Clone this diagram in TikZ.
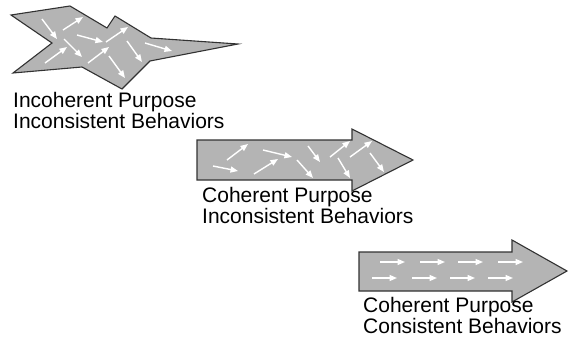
\documentclass[tikz,border=0pt]{standalone}
\usepackage{fontspec}
\setmainfont{Liberation Sans}
\usetikzlibrary{arrows.meta}
\definecolor{shapegray}{RGB}{180,180,180}
\definecolor{edgegray}{RGB}{50,50,50}
\tikzset{
  shapebox/.style={fill=shapegray, draw=edgegray, line width=1.1pt, line join=miter},
  tinyarrow/.style={draw=white, line width=1.4pt, -{Triangle[length=7.5pt,width=6pt]}},
  caption/.style={anchor=base west, inner sep=0pt, align=left,
    font=\fontsize{21pt}{21pt}\selectfont, text=black}
}
\begin{document}
\begin{tikzpicture}[x=1pt,y=-1pt]
\useasboundingbox (0,0) rectangle (568,343);
% Incoherent shape
\draw[shapebox] (11,15) -- (70,6) -- (107,28) -- (115,16) -- (151,38) -- (238,44)
  -- (150,61) -- (122,89) -- (82,67) -- (13,73) -- (52,43) -- cycle;
\foreach \a/\b in {{(42,19)}/{(57,39)}, {(63,30)}/{(83,17)}, {(77,35)}/{(103,42)},
  {(64,39)}/{(82,57)}, {(45,63)}/{(67,47)}, {(88,63)}/{(109,47)},
  {(106,42)}/{(128,27)}, {(127,41)}/{(142,62)}, {(145,43)}/{(172,51)},
  {(109,56)}/{(125,78)}}
  \draw[tinyarrow] \a -- \b;
\node[caption] (t1) at (13,128) {Incoherent Purpose\\Inconsistent Behaviors};
% Coherent purpose, inconsistent behaviors
\draw[shapebox] (197,140) -- (352,140) -- (352,129) -- (413,160) -- (352,191)
  -- (352,180) -- (197,180) -- cycle;
\foreach \a/\b in {{(227,160)}/{(248,144)}, {(213,166)}/{(238,171)}, {(263,150)}/{(292,157)},
  {(254,174)}/{(278,159)}, {(297,160)}/{(313,178)}, {(308,146)}/{(320,162)},
  {(330,157)}/{(350,141)}, {(338,158)}/{(350,178)}, {(350,157)}/{(372,141)},
  {(370,153)}/{(384,172)}}
  \draw[tinyarrow] \a -- \b;
\node[caption] (t2) at (202,223) {Coherent Purpose\\Inconsistent Behaviors};
% Coherent purpose, consistent behaviors
\draw[shapebox] (359,252) -- (512,252) -- (512,240) -- (567,271) -- (512,302)
  -- (512,291) -- (359,291) -- cycle;
\foreach \x in {380,420,458,498}
  \draw[tinyarrow] (\x,262) -- (\x+25,262);
\foreach \x in {372,412,450,488}
  \draw[tinyarrow] (\x,278) -- (\x+25,278);
\node[caption] (t3) at (363,333) {Coherent Purpose\\Consistent Behaviors};
\end{tikzpicture}
\end{document}
